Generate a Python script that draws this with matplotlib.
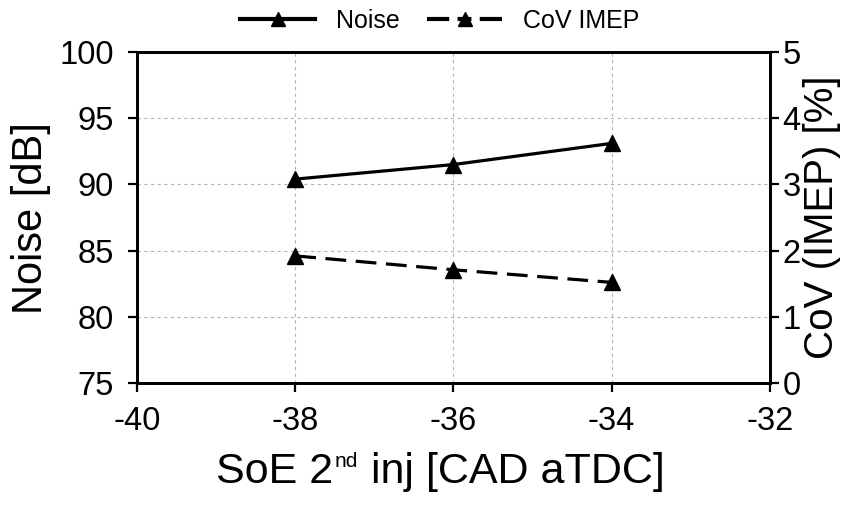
import matplotlib
matplotlib.use('Agg')
import matplotlib.pyplot as plt
from matplotlib.lines import Line2D
from matplotlib.offsetbox import TextArea, HPacker, AnchoredOffsetbox

plt.rcParams.update({
    'font.family': ['Liberation Sans', 'DejaVu Sans'],
    'font.size': 23.5,
    'axes.unicode_minus': False,
})

# ── Data ─────────────────────────────────────────────────────────────────────
soe = [-38, -36, -34]
noise = [90.4, 91.5, 93.1]
cov_imep = [1.92, 1.71, 1.52]

x_ticks = [-40, -38, -36, -34, -32]
noise_ticks = [75, 80, 85, 90, 95, 100]
cov_ticks = [0, 1, 2, 3, 4, 5]

LW = 2.3
DASH = (0, (6.5, 3.0))

fig = plt.figure(figsize=(8.46, 5.05), dpi=100)
ax = fig.add_axes([0.162, 0.2416, 0.748, 0.6554])
ax2 = ax.twinx()

ax.plot(soe, noise, color='black', lw=LW, marker='^', ms=11)
ax2.plot(soe, cov_imep, color='black', lw=LW, ls=DASH, marker='^', ms=11)

ax.set_xlim(-40, -32)
ax.set_ylim(75, 100)
ax2.set_ylim(0, 5)
ax.set_xticks(x_ticks)
ax.set_yticks(noise_ticks)
ax2.set_yticks(cov_ticks)

ax.grid(True, color='#b5b5b5', ls=(0, (3, 3)), lw=0.8)
ax.set_axisbelow(True)

for a in (ax, ax2):
    for s in a.spines.values():
        s.set_linewidth(2.0)
    a.tick_params(direction='out', length=6.5, width=1.6, labelsize=23.5, pad=10)
ax2.tick_params(axis='y', pad=2.5)

# axis titles
fig.text(0.0366, 0.569, 'Noise [dB]', rotation=90, ha='center', va='center', fontsize=30)
fig.text(0.972, 0.569, 'CoV (IMEP) [%]', rotation=90, ha='center', va='center', fontsize=29)

xl = HPacker(children=[TextArea('SoE 2', textprops=dict(fontsize=31)),
                       TextArea('nd', textprops=dict(fontsize=15)),
                       TextArea(' inj [CAD aTDC]', textprops=dict(fontsize=31))],
             align='top', pad=0, sep=1)
fig.add_artist(AnchoredOffsetbox(loc='upper center', child=xl, pad=0, borderpad=0,
                                 frameon=False, bbox_to_anchor=(0.5207, 0.105),
                                 bbox_transform=fig.transFigure))

handles = [
    Line2D([], [], color='black', lw=3.0, marker='^', ms=10),
    Line2D([], [], color='black', lw=3.0, ls=(0, (5.33, 2.0, 3.33, 2.0)), marker='^', ms=10),
]
fig.legend(handles, ['Noise', 'CoV IMEP'], loc='center', bbox_to_anchor=(0.52, 0.958),
           ncol=2, frameon=False, fontsize=18, handlelength=3.0, columnspacing=1.1,
           handletextpad=0.84)

fig.savefig('out.png', dpi=100)
